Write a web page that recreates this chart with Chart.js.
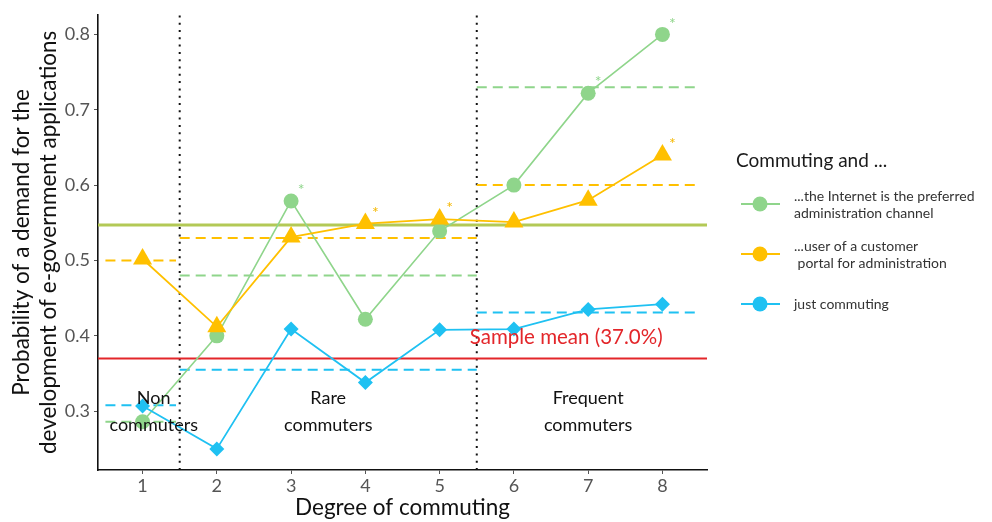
<!DOCTYPE html>
<html>
<head>
<meta charset="utf-8">
<script src="https://cdn.jsdelivr.net/npm/chart.js@4.4.1/dist/chart.umd.min.js"></script>
<style>
  html, body { margin: 0; padding: 0; background: #ffffff; }
  #wrap { width: 992px; height: 522px; position: relative; }
</style>
</head>
<body>
<div id="wrap"><canvas id="c" width="992" height="522"></canvas></div>
<script>
// ---------------- data ----------------
const degrees = [1, 2, 3, 4, 5, 6, 7, 8];
const xTicks = [1, 2, 3, 4, 5, 6, 7, 8];
const yTicks = [0.3, 0.4, 0.5, 0.6, 0.7, 0.8];

const internetPreferred = [0.286, 0.400, 0.579, 0.422, 0.539, 0.600, 0.722, 0.800];
const portalUser        = [0.502, 0.412, 0.531, 0.549, 0.555, 0.551, 0.580, 0.640];
const justCommuting     = [0.307, 0.250, 0.409, 0.338, 0.408, 0.409, 0.435, 0.442];

const internetSignificant = [false, false, true, false, false, false, true, true];
const portalSignificant   = [false, false, false, true, true, false, false, true];

const groupLabels = [["Non", "commuters"], ["Rare", "commuters"], ["Frequent", "commuters"]];
const groupLabelX = [1.15, 3.5, 7.0];
const groupStart  = [0.5, 1.5, 5.5];
const groupEnd    = [1.45, 5.5, 8.5];
const internetGroupMean = [0.286, 0.480, 0.730];
const portalGroupMean   = [0.500, 0.530, 0.600];
const justGroupMean     = [0.308, 0.355, 0.431];

const groupBoundaries = [1.5, 5.5];
const sampleMean = 0.370;
const sampleMeanLabel = "Sample mean (37.0%)";
const internetPortalMean = 0.547;

const seriesNames = ["...the Internet is the preferred\nadministration channel",
                     "...user of a customer\n portal for administration",
                     "just commuting"];
const legendTitle = "Commuting and ...";

// ---------------- styles ----------------
const GREEN = '#8fd58b';
const YELLOW = '#ffc000';
const BLUE = '#1fc1f2';
const RED = '#e3262a';
const OLIVE = '#b3c956';
const FONT = 'Lato, "Open Sans", sans-serif';
const X_MIN = 0.4, X_MAX = 8.6, Y_MIN = 0.222, Y_MAX = 0.826;

function pts(xs, ys) { return xs.map((x, i) => ({ x: x, y: ys[i] })); }

const datasets = [];
function addGroupDashes(means, color) {
  means.forEach((m, i) => {
    datasets.push({
      data: [{ x: groupStart[i], y: m }, { x: groupEnd[i], y: m }],
      showLine: true, borderColor: color, borderWidth: 2, borderDash: [10, 6],
      pointRadius: 0, order: 5
    });
  });
}
addGroupDashes(internetGroupMean, GREEN);
addGroupDashes(portalGroupMean, YELLOW);
addGroupDashes(justGroupMean, BLUE);

datasets.push({ data: [{ x: X_MIN, y: sampleMean }, { x: X_MAX, y: sampleMean }],
  showLine: true, borderColor: RED, borderWidth: 2, pointRadius: 0, order: 6 });
datasets.push({ data: [{ x: X_MIN, y: internetPortalMean }, { x: X_MAX, y: internetPortalMean }],
  showLine: true, borderColor: OLIVE, borderWidth: 3, pointRadius: 0, order: 4 });

groupBoundaries.forEach(b => {
  datasets.push({ data: [{ x: b, y: Y_MIN }, { x: b, y: Y_MAX }],
    showLine: true, borderColor: '#111', borderWidth: 2, borderDash: [2, 5.3],
    pointRadius: 0, order: 7 });
});

datasets.push({ label: 'internet', data: pts(degrees, internetPreferred), showLine: true,
  borderColor: GREEN, backgroundColor: GREEN, borderWidth: 1.6,
  pointStyle: 'circle', pointRadius: 7.5, pointBorderWidth: 0, order: 2 });
datasets.push({ label: 'portal', data: pts(degrees, portalUser), showLine: true,
  borderColor: YELLOW, backgroundColor: YELLOW, borderWidth: 1.8,
  pointStyle: 'triangle', pointRadius: 11, pointBorderWidth: 0, order: 1 });
datasets.push({ label: 'just', data: pts(degrees, justCommuting), showLine: true,
  borderColor: BLUE, backgroundColor: BLUE, borderWidth: 1.8,
  pointStyle: 'rectRot', pointRadius: 7.5, pointBorderWidth: 0, order: 0 });

const annotPlugin = {
  id: 'annot',
  afterDatasetsDraw(chart) {
    const ctx = chart.ctx;
    const xs = chart.scales.x, ys = chart.scales.y;
    ctx.save();
    ctx.fillStyle = RED;
    ctx.font = '20.5px ' + FONT;
    ctx.textAlign = 'center';
    ctx.textBaseline = 'middle';
    ctx.fillText(sampleMeanLabel, xs.getPixelForValue(7.0) - 22, ys.getPixelForValue(0.398));
    ctx.fillStyle = '#111';
    ctx.font = '18px ' + FONT;
    groupLabels.forEach((lines, i) => {
      ctx.fillText(lines[0], xs.getPixelForValue(groupLabelX[i]), ys.getPixelForValue(0.317));
      ctx.fillText(lines[1], xs.getPixelForValue(groupLabelX[i]), ys.getPixelForValue(0.281));
    });
    ctx.font = '16px ' + FONT;
    function stars(vals, flags, color) {
      ctx.fillStyle = color;
      vals.forEach((v, i) => {
        if (!flags[i]) return;
        const px = xs.getPixelForValue(degrees[i]);
        const py = ys.getPixelForValue(v);
        ctx.fillText('*', px + 10, py - 11);
      });
    }
    stars(internetPreferred, internetSignificant, GREEN);
    stars(portalUser, portalSignificant, '#f5b800');
    ctx.restore();
  },
  afterDraw(chart) {
    const ctx = chart.ctx;
    ctx.save();
    ctx.textAlign = 'left';
    ctx.textBaseline = 'middle';
    ctx.fillStyle = '#1a1a1a';
    ctx.font = '19px ' + FONT;
    ctx.fillText(legendTitle, 736, 161);
    const colors = [GREEN, YELLOW, BLUE];
    const ys = [204, 254, 304];
    ctx.font = '14px ' + FONT;
    seriesNames.forEach((name, i) => {
      ctx.strokeStyle = colors[i];
      ctx.lineWidth = 2;
      ctx.beginPath(); ctx.moveTo(741, ys[i]); ctx.lineTo(780, ys[i]); ctx.stroke();
      ctx.fillStyle = colors[i];
      ctx.beginPath(); ctx.arc(760, ys[i], 7.5, 0, Math.PI * 2); ctx.fill();
      ctx.fillStyle = '#333';
      const lines = name.split('\n');
      if (lines.length === 1) {
        ctx.fillText(lines[0], 794, ys[i]);
      } else {
        ctx.fillText(lines[0], 794, ys[i] - 7.5);
        ctx.fillText(lines[1], 794, ys[i] + 9.5);
      }
    });
    ctx.restore();
  }
};

new Chart(document.getElementById('c'), {
  type: 'scatter',
  data: { datasets: datasets },
  plugins: [annotPlugin],
  options: {
    responsive: false,
    animation: false,
    events: [],
    layout: { padding: { left: 0, right: 285, top: 13, bottom: 0 } },
    plugins: { legend: { display: false }, tooltip: { enabled: false } },
    scales: {
      x: {
        type: 'linear', min: X_MIN, max: X_MAX,
        afterBuildTicks: s => { s.ticks = xTicks.map(v => ({ value: v })); },
        afterFit: s => { s.height = 52; },
        grid: { display: true, drawOnChartArea: false, drawTicks: true, tickLength: 4, color: '#555' },
        border: { display: true, color: '#111', width: 1.6 },
        ticks: { color: '#555', font: { family: FONT, size: 18 }, padding: 1, callback: v => String(v) },
        title: { display: true, text: 'Degree of commuting', color: '#111',
                 font: { family: FONT, size: 22.5, lineHeight: 1.2 }, padding: { top: 0, bottom: 1 } }
      },
      y: {
        type: 'linear', min: Y_MIN, max: Y_MAX,
        afterBuildTicks: s => { s.ticks = yTicks.map(v => ({ value: v })); },
        afterFit: s => { s.width = 98; },
        grid: { display: true, drawOnChartArea: false, drawTicks: true, tickLength: 4, color: '#555' },
        border: { display: true, color: '#111', width: 1.6 },
        ticks: { color: '#555', font: { family: FONT, size: 18 }, padding: 4, callback: v => v.toFixed(1) },
        title: { display: true, text: ['Probability of a demand for the', 'development of e-government applications'],
                 color: '#111', font: { family: FONT, size: 22.5, lineHeight: 1.2 }, padding: { top: 8, bottom: 0 } }
      }
    }
  }
});
</script>
</body>
</html>
